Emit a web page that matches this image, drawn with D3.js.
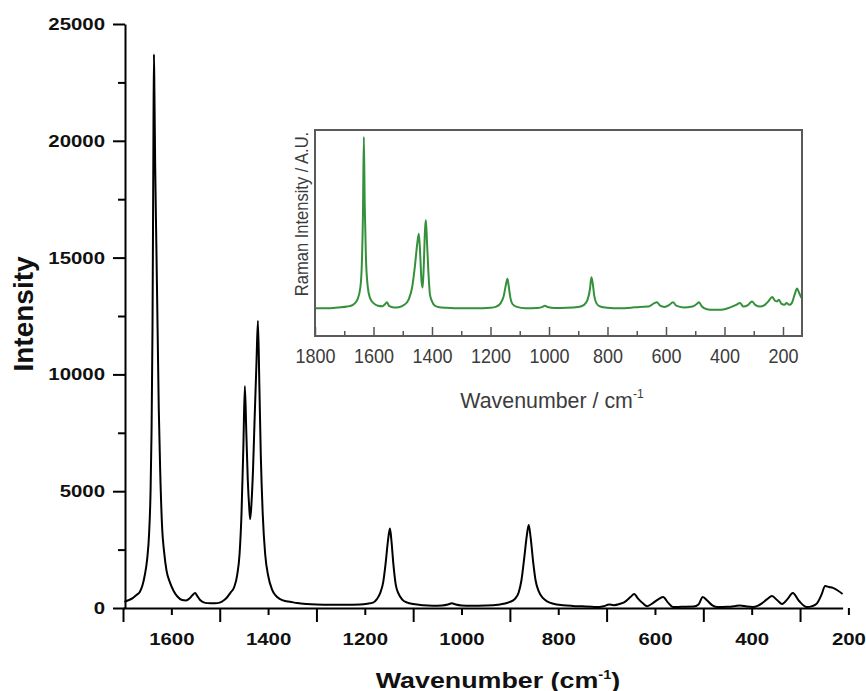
<!DOCTYPE html>
<html>
<head>
<meta charset="utf-8">
<script src="https://cdn.jsdelivr.net/npm/d3@7"></script>
<style>
  body { margin: 0; background: #fff; }
  svg { display: block; font-family: "Liberation Sans", Arial, sans-serif; }
</style>
</head>
<body>
<svg></svg>
<script>
// main spectrum (wavenumber, intensity)
let mainWn  = [1697,1690,1680,1672,1665,1660,1655,1650,1646,1643,1641,1639,1638,1637,1636,1635,1633.5,1631,1628.5,1626,1623,1619,1615,1610,1603,1595,1587,1578,1570,1562,1556,1551,1546,1540,1530,1520,1510,1500,1492,1485,1478,1470,1464,1459,1455,1451,1448,1445,1442,1439,1437,1434,1431,1428,1424,1421,1418,1415,1411,1406,1400,1392,1385,1375,1365,1355,1340,1320,1300,1270,1240,1210,1195,1183,1175,1168,1162,1157,1152,1148,1145,1141,1136,1130,1122,1112,1100,1080,1060,1040,1028,1020,1012,1000,980,950,925,910,900,890,882,876,870,865,861,857,852,847,840,832,822,810,790,770,750,730,715,705,695,685,672,663,650,643,635,625,616,605,595,583,573,563,545,520,510,501,492,482,472,450,435,424,410,397,388,379,368,358,347,337,326,315,302,286,275,265,256,248,240,232,222,212],
    mainInt = [260,320,420,560,700,950,1400,2100,3200,5000,7500,12000,16000,20500,23700,22000,19000,15500,12000,8500,5800,3400,2400,1600,1100,720,480,340,320,420,560,640,500,330,220,200,200,230,320,450,650,900,1400,2300,4000,7000,9500,7500,5500,4300,3800,4600,6000,8000,10500,12300,9500,6500,4000,2300,1400,800,550,380,300,270,210,170,150,140,140,150,180,230,380,650,1100,1900,2900,3400,2900,1900,1000,600,350,230,170,120,100,110,150,200,150,110,100,110,140,190,260,380,650,1200,2200,3100,3550,3000,2000,1200,700,430,270,180,120,90,70,50,40,80,150,120,180,250,480,600,400,200,80,200,350,470,230,40,50,60,150,470,320,120,40,50,80,110,60,40,90,200,380,510,330,170,380,640,300,40,80,200,550,940,900,860,750,600];

// inset spectrum (wavenumber, relative intensity)
let insetWn  = [1800,1760,1720,1690,1670,1655,1645,1640,1636,1633,1630,1626,1620,1612,1600,1585,1570,1560,1554,1546,1530,1510,1495,1480,1468,1458,1450,1445,1440,1436,1432,1428,1424,1421,1417,1412,1407,1400,1390,1375,1350,1300,1250,1200,1180,1165,1155,1148,1142,1137,1132,1125,1110,1080,1040,1020,1014,1005,980,940,900,880,868,860,855,851,845,838,825,800,760,720,690,660,640,631,620,605,590,576,565,540,510,495,487,478,460,440,420,400,380,360,347,335,320,306,295,278,262,250,237,228,220,214,205,195,188,178,170,160,152,145,137],
    insetInt = [0,0,0.005,0.01,0.02,0.05,0.12,0.25,0.55,0.99,0.6,0.3,0.13,0.06,0.03,0.015,0.012,0.025,0.035,0.012,0.005,0.008,0.02,0.05,0.12,0.25,0.38,0.43,0.3,0.16,0.12,0.25,0.45,0.51,0.38,0.2,0.08,0.04,0.015,0.006,0.003,0,0,0.003,0.01,0.03,0.07,0.13,0.17,0.12,0.06,0.025,0.008,0,0.002,0.01,0.015,0.008,0.002,0.003,0.008,0.02,0.05,0.11,0.18,0.15,0.07,0.03,0.01,0.003,0,0.003,0.008,0.01,0.03,0.035,0.015,0.008,0.018,0.035,0.015,0.005,0.01,0.025,0.035,0.012,-0.005,-0.008,-0.008,-0.005,0.005,0.02,0.03,0.01,0.018,0.04,0.02,0.01,0.02,0.04,0.065,0.045,0.04,0.05,0.025,0.02,0.03,0.02,0.03,0.08,0.115,0.09,0.06];

let mainXTicks  = d3.range(1700, 199, -100),
    mainXLabels = [1600,1400,1200,1000,800,600,400,200],
    mainYTicks  = d3.range(0, 25001, 2500),
    mainYLabels = [0,5000,10000,15000,20000,25000],
    insetXTicks = d3.range(1800, 199, -100),
    insetXLabels= [1800,1600,1400,1200,1000,800,600,400,200];

let width = 866, height = 691;

let svg = d3.select("svg").attr("width", width).attr("height", height);

let xScale = d3.scaleLinear().domain([1700, 212]).range([123, 842.6]),
    yScale = d3.scaleLinear().domain([0, 25000]).range([608, 24]);

// ---- main x axis
let xAxis = d3.axisBottom(xScale).tickValues(mainXTicks)
    .tickSizeInner(14).tickSizeOuter(0).tickPadding(11)
    .tickFormat(d => mainXLabels.includes(d) ? d : "");

let gx = svg.append("g").attr("transform", "translate(0,608)").call(xAxis);
gx.select(".domain").attr("stroke-width", 2);
gx.selectAll(".tick line").attr("stroke-width", 2)
  .attr("y2", d => mainXLabels.includes(d) ? 7 : 14);
// the picture is stretched sideways, so text gets a horizontal scale
gx.selectAll(".tick text")
  .style("font-size", "17px").style("font-weight", "bold")
  .attr("fill", "#111")
  .attr("transform", "scale(1.2,1)");

// ---- main y axis
let yAxis = d3.axisLeft(yScale).tickValues(mainYTicks)
    .tickSizeInner(12).tickSizeOuter(0).tickPadding(8)
    .tickFormat(d => mainYLabels.includes(d) ? d : "");

let gy = svg.append("g").attr("transform", "translate(125,0)").call(yAxis);
gy.select(".domain").attr("stroke-width", 2);
gy.selectAll(".tick line").attr("stroke-width", 2)
  .attr("x2", d => mainYLabels.includes(d) ? -12 : -7);
gy.selectAll(".tick text")
  .style("font-size", "17px").style("font-weight", "bold")
  .attr("fill", "#111")
  .attr("x", -20 / 1.2)
  .attr("transform", "scale(1.2,1)");

// ---- main spectrum
let line = d3.line()
    .x((d, i) => xScale(mainWn[i]))
    .y((d, i) => yScale(mainInt[i]))
    .curve(d3.curveMonotoneX);

svg.append("path")
  .datum(mainInt)
  .attr("d", line)
  .attr("fill", "none")
  .attr("stroke", "#000")
  .attr("stroke-width", 2)
  .attr("stroke-linejoin", "round");

// ---- main titles
svg.append("text")
  .attr("transform", "translate(33,314) rotate(-90)")
  .style("text-anchor", "middle")
  .style("font-size", "28px")
  .style("font-weight", "bold")
  .attr("fill", "#111")
  .text("Intensity");

let xt = svg.append("g").attr("transform", "translate(498,688) scale(1.22,1)")
  .append("text")
  .style("text-anchor", "middle")
  .style("font-size", "22px")
  .style("font-weight", "bold")
  .attr("fill", "#111");
xt.append("tspan").text("Wavenumber (cm");
xt.append("tspan").text("-1").attr("dy", "-9").style("font-size", "12px");
xt.append("tspan").text(")").attr("dy", "9");

// ---- inset
let ix = d3.scaleLinear().domain([1800, 135]).range([315, 802]),
    iy = d3.scaleLinear().domain([-0.16, 1.03]).range([336, 130]);

let inset = svg.append("g");

inset.append("clipPath").attr("id", "insetClip")
  .append("rect").attr("x", 315).attr("y", 130).attr("width", 487).attr("height", 206);

let insetLine = d3.line()
    .x((d, i) => ix(insetWn[i]))
    .y((d, i) => iy(insetInt[i]))
    .curve(d3.curveMonotoneX);

inset.append("path")
  .datum(insetInt)
  .attr("clip-path", "url(#insetClip)")
  .attr("d", insetLine)
  .attr("fill", "none")
  .attr("stroke", "#34903a")
  .attr("stroke-width", 2)
  .attr("stroke-linejoin", "round");

let ixAxis = d3.axisBottom(ix).tickValues(insetXTicks)
    .tickSizeInner(-9).tickSizeOuter(0).tickPadding(13)
    .tickFormat(d => insetXLabels.includes(d) ? d : "");

let gix = inset.append("g").attr("transform", "translate(0,336)").call(ixAxis);
gix.select(".domain").remove();
gix.selectAll(".tick line").attr("stroke", "#555").attr("stroke-width", 1.5)
  .attr("y2", d => insetXLabels.includes(d) ? -9 : -5);
gix.selectAll(".tick text")
  .style("font-size", "20px")
  .attr("fill", "#3c3c3c")
  .attr("transform", "scale(0.9,1)");

inset.append("rect")
  .attr("x", 315).attr("y", 130).attr("width", 487).attr("height", 206)
  .attr("fill", "none").attr("stroke", "#5a5a5a").attr("stroke-width", 2);

let it = inset.append("g").attr("transform", "translate(552,408) scale(0.93,1)")
  .append("text")
  .style("text-anchor", "middle")
  .style("font-size", "23px")
  .attr("fill", "#3c3c3c");
it.append("tspan").text("Wavenumber / cm");
it.append("tspan").text("-1").attr("dy", "-10").style("font-size", "13px");

inset.append("g").attr("transform", "translate(308,214) rotate(-90) scale(0.87,1)")
  .append("text")
  .style("text-anchor", "middle")
  .style("font-size", "19px")
  .attr("fill", "#3c3c3c")
  .text("Raman Intensity / A.U.");
</script>
</body>
</html>
